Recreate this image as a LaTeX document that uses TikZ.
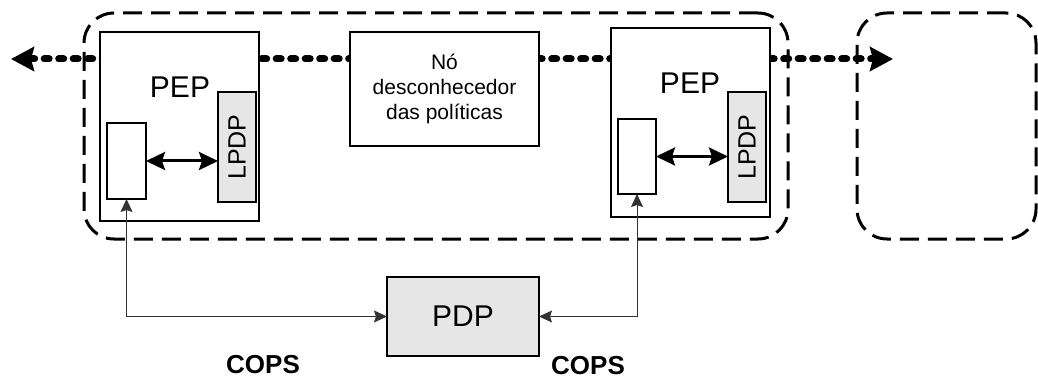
\documentclass[tikz,border=0pt]{standalone}
\usepackage{fontspec}
\setmainfont{Liberation Sans}
\usetikzlibrary{arrows.meta}
\definecolor{boxgray}{RGB}{230,230,230}
\begin{document}
\begin{tikzpicture}[x=1pt,y=-1pt,
  zonebox/.style={draw, line width=3pt, dash pattern=on 19pt off 9pt,
    rounded corners=30pt, inner sep=0pt, outer sep=0pt},
  box/.style={draw, line width=1.8pt, fill=white, inner sep=0pt, outer sep=0pt},
  graybox/.style={box, fill=boxgray},
  bigtext/.style={font=\fontsize{30}{36}\selectfont},
  midtext/.style={font=\fontsize{25}{30}\selectfont},
  smalltext/.style={font=\fontsize{21}{25}\selectfont, align=center},
  copstext/.style={font=\fontsize{26}{31}\selectfont\bfseries, inner sep=0pt},
  pathwire/.style={line width=7pt, line cap=round, dash pattern=on 5pt off 9.5pt,
    {Stealth[length=23pt,width=24pt,inset=3pt]}-{Stealth[length=23pt,width=24pt,inset=3pt]}},
  pepwire/.style={line width=3pt,
    {Stealth[length=19pt,width=18pt,inset=3pt]}-{Stealth[length=19pt,width=18pt,inset=3pt]}},
  copswire/.style={line width=1pt, black!80,
    {Stealth[length=13pt,width=12pt,inset=2pt]}-{Stealth[length=13pt,width=12pt,inset=2pt]}}
]
\useasboundingbox (0,0) rectangle (1038,382);

% policy-unaware path through the domain
\coordinate (wl) at (11,59);
\coordinate (wr) at (893,59);
\draw[pathwire] (wl) -- (wr);

% domains
\node[zonebox, minimum width=704pt, minimum height=226pt] (dom1) at (436,126) {};
\node[zonebox, minimum width=179pt, minimum height=226pt] (dom2) at (946.5,126) {};

% left PEP
\node[box, minimum width=159pt, minimum height=189pt] (pepL) at (179.5,126.5) {};
\node[bigtext] (pepLt) at (180,87.5) {PEP};
\node[box, minimum width=39pt, minimum height=76pt] (smL) at (126.5,161) {};
\node[graybox, rotate=90, minimum width=110pt, minimum height=38pt, midtext] (lpdpL) at (237,147) {LPDP};

% unaware node
\node[box, minimum width=189pt, minimum height=114pt, smalltext] (noh) at (444.5,89) {Nó\\desconhecedor\\das políticas};

% right PEP
\node[box, minimum width=159pt, minimum height=189pt] (pepR) at (690.5,122.5) {};
\node[bigtext] (pepRt) at (690,83) {PEP};
\node[box, minimum width=38pt, minimum height=75pt] (smR) at (637,156.5) {};
\node[graybox, rotate=90, minimum width=110pt, minimum height=38pt, midtext] (lpdpR) at (747,147) {LPDP};

% internal exchanges
\draw[pepwire] (smL.east) -- (smL.east -| lpdpL.north);
\draw[pepwire] (smR.east) -- (smR.east -| lpdpR.north);

% PDP
\node[graybox, minimum width=152pt, minimum height=79pt, bigtext] (pdp) at (463,316.5) {PDP};
\draw[copswire] (smL.south) |- (pdp.west);
\draw[copswire] (smR.south) |- (pdp.east);

% protocol labels
\node[copstext] (copsL) at (263,365) {COPS};
\node[copstext] (copsR) at (588,366) {COPS};
\end{tikzpicture}
\end{document}
